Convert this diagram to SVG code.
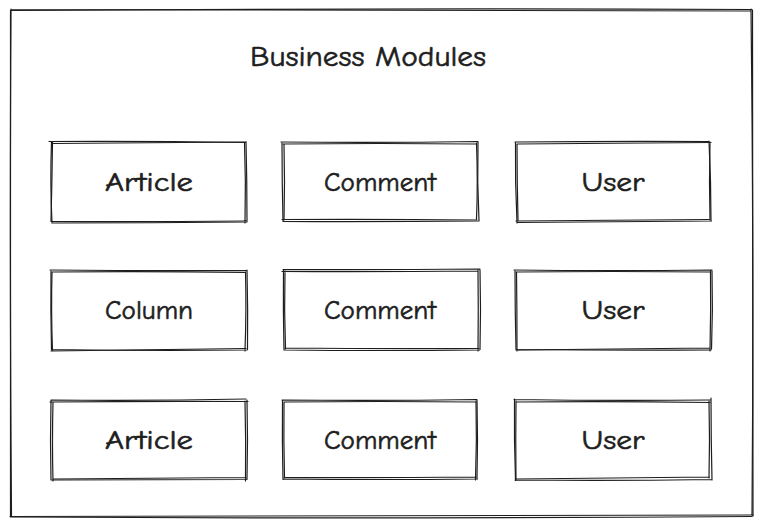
<svg xmlns="http://www.w3.org/2000/svg" width="763" height="524" viewBox="0 0 763 524">
<style>
.s{fill:none;stroke:#1e1e1e;stroke-width:1.2;stroke-linecap:round;stroke-linejoin:round}
.t{font-family:"Comic Neue","Liberation Sans",sans-serif;font-size:27px;fill:#1e1e1e;stroke:#1e1e1e;stroke-width:0.6;text-anchor:middle}
.h{font-size:29px}
</style>
<rect width="763" height="524" fill="#ffffff"/>
<g id="frame">
<path class="s" d="M10.5 10.5 Q380 8 752 9.5 M752.5 10 Q752 260 753 516 M752 516.5 Q380 519 11 517 M10.5 517 Q10 260 10.5 10.5"/>
<path class="s" d="M11 9.5 Q390 10.5 751 11 M751 9 Q754 270 752 515 M753 515 Q370 516 10 516.5 M11.5 516 Q9.5 250 11 9"/>
<text class="t h" x="368" y="66" textLength="236" lengthAdjust="spacingAndGlyphs">Business Modules</text>
</g>
<g id="n-article-1">
<path class="s" d="M49 141.5 Q148 141 246 142.5 M246 141.5 Q247 182 247 221.5 M247 222 Q150 223 53 223 M52 223 Q50 182 51.5 142"/>
<path class="s" d="M53 143.5 Q150 143 245 142 M244.5 143 Q246 182 245 223 M246 221 Q148 222 51 221.5 M51 221 Q52 182 52.5 142"/>
<text class="t" x="149" y="191" textLength="88" lengthAdjust="spacingAndGlyphs">Article</text>
</g>
<g id="n-comment-1">
<path class="s" d="M281 142 Q380 143 478 141.5 M478 142 Q477 182 479 221 M478.5 221 Q380 222 283 221.5 M283 221.5 Q282 182 282 142.5"/>
<path class="s" d="M283 144 Q380 143 476 144 M476.5 143 Q478 182 476.5 219.5 M477 220 Q381 219 282 219.5 M284 220 Q285 182 284 144"/>
<text class="t" x="380" y="191" textLength="112" lengthAdjust="spacingAndGlyphs">Comment</text>
</g>
<g id="n-user-1">
<path class="s" d="M515 142 Q612 141 709 141.5 M709 141 Q711 182 711 221 M711.5 221 Q612 222 517 222.5 M517 223 Q515 182 515.5 142.5"/>
<path class="s" d="M517 144 Q612 143 711 142.5 M710 142 Q709 182 710 220 M709 219.5 Q612 220 516 221 M518 220 Q517 182 517 144"/>
<text class="t" x="613" y="191" textLength="63" lengthAdjust="spacingAndGlyphs">User</text>
</g>
<g id="n-column">
<path class="s" d="M50 270 Q148 271 247 270.5 M247 270 Q248 310 247.5 349.5 M247 350 Q150 351 52 349.5 M51.5 350 Q50.5 310 51 271"/>
<path class="s" d="M52 272 Q150 271 245 272.5 M245.5 272 Q246.5 310 245 351 M246 348.5 Q148 350 51 351 M52.5 351 Q51 310 52 272"/>
<text class="t" x="149" y="319" textLength="88" lengthAdjust="spacingAndGlyphs">Column</text>
</g>
<g id="n-comment-2">
<path class="s" d="M283 269.5 Q380 270 480 269 M480 270 Q481 310 480 349.5 M479.5 350 Q380 351 284 350 M284 350 Q283 310 283.5 270"/>
<path class="s" d="M282 271.5 Q380 272 478 271 M478 270 Q478.5 310 478 351 M479 348.5 Q381 349 285 348 M285.5 349 Q284 310 285 271"/>
<text class="t" x="380" y="319" textLength="112" lengthAdjust="spacingAndGlyphs">Comment</text>
</g>
<g id="n-user-2">
<path class="s" d="M514 270 Q612 271 712 270 M712 271 Q713 310 711.5 349 M711 350 Q612 350.5 516 349.5 M516 350 Q515 310 515 270.5"/>
<path class="s" d="M516 272 Q612 271 710 272 M710.5 271 Q711 310 710 351 M710 348 Q612 349 517 350 M517 351 Q517 310 516.5 272"/>
<text class="t" x="613" y="319" textLength="63" lengthAdjust="spacingAndGlyphs">User</text>
</g>
<g id="n-article-2">
<path class="s" d="M51 400 Q148 401 246 399 M247 400 Q248 440 247 479 M247 479.5 Q150 480 52 480 M51 480 Q50 440 51 400.5"/>
<path class="s" d="M50 402 Q150 401 248 401.5 M245 401 Q246 440 245.5 481 M246 477.5 Q148 478 53 479 M53 481 Q52 440 53 402"/>
<text class="t" x="149" y="449" textLength="88" lengthAdjust="spacingAndGlyphs">Article</text>
</g>
<g id="n-comment-3">
<path class="s" d="M282 400 Q380 401 477 399.5 M477 400 Q478 440 477 478.5 M477.5 479 Q380 480 283 479 M283 479.5 Q282 440 282.5 400.5"/>
<path class="s" d="M284 402 Q380 401 476 402 M476 401 Q477 440 475.5 480 M476 477 Q381 478 284 477.5 M284.5 478 Q283.5 440 284 402"/>
<text class="t" x="380" y="449" textLength="112" lengthAdjust="spacingAndGlyphs">Comment</text>
</g>
<g id="n-user-3">
<path class="s" d="M514 399.5 Q612 401 710 400 M711 398 Q711 440 712 480 M712 479.5 Q612 481 515 480 M515.5 480.5 Q514 440 514.5 399"/>
<path class="s" d="M516 402 Q612 401 710 402.5 M709 401 Q710 440 709 478 M709.5 477 Q612 478 516 479 M516 480 Q515.5 440 516 401"/>
<text class="t" x="613" y="449" textLength="63" lengthAdjust="spacingAndGlyphs">User</text>
</g>
<g id="connectors"></g>
</svg>
